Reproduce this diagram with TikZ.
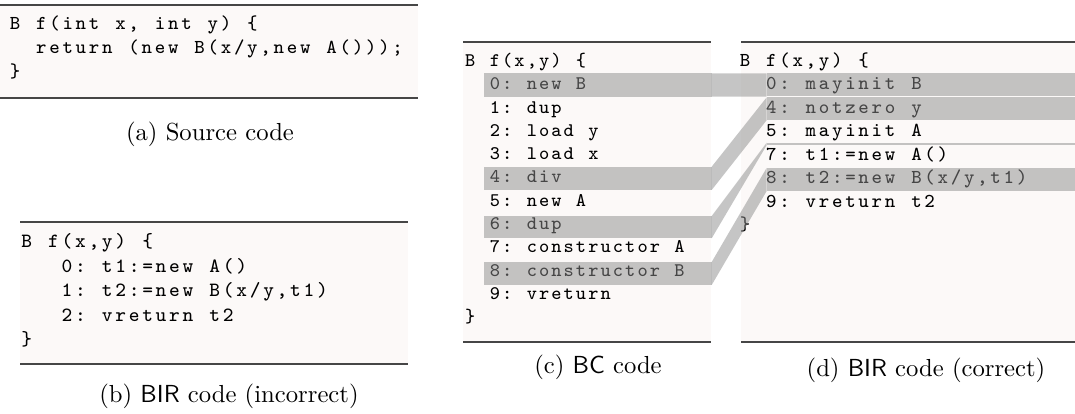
\documentclass[tikz,border=0pt]{standalone}
\usepackage{fontspec}
\newfontfamily\codefont{lmmono8-regular}[Extension=.otf]
\usetikzlibrary{fit}
\ExplSyntaxOn
\dim_new:N \l_cp_pitch_dim
\NewDocumentCommand \codeln { m m }
 {
   \dim_set:Nn \l_cp_pitch_dim {#1}
   \str_map_inline:nn {#2}
     {
       \str_if_eq:eeF {##1} { \c_backslash_str }
         {
           \str_if_eq:eeTF {##1} { \c_tilde_str }
             { \makebox[\l_cp_pitch_dim]{} }
             { \makebox[\l_cp_pitch_dim]{##1} }
         }
     }
 }
\ExplSyntaxOff
\definecolor{codebg}{RGB}{252,249,248}
\definecolor{rulec}{RGB}{70,70,70}
\tikzset{
  codebox/.style={inner sep=0pt, outer sep=0pt, fill=codebg},
  coderule/.style={draw=rulec, line width=0.45pt},
  codetxt/.style={anchor=base west, inner sep=0pt, outer sep=0pt},
  ctA/.style={codetxt, font=\codefont\fontsize{8}{9}\selectfont},
  ctB/.style={codetxt, font=\codefont\fontsize{8.2}{9}\selectfont},
  ctC/.style={codetxt, font=\codefont\fontsize{7.8}{9}\selectfont},
  ctD/.style={codetxt, font=\codefont\fontsize{8}{9}\selectfont},
  hlband/.style={inner sep=0pt, outer sep=0pt, fill=black!45, fill opacity=0.5},
  linkband/.style={fill=black!45, fill opacity=0.5},
  captxt/.style={font=\fontsize{10}{12}\selectfont, inner sep=0pt}
}
\begin{document}
\begin{tikzpicture}[x=0.4055pt,y=-0.4055pt]
\useasboundingbox (0,0) rectangle (1075,414);
% ---------- boxes
\coordinate (a-nw) at (0,5);     \coordinate (a-se) at (418,98);
\coordinate (b-nw) at (20,222);  \coordinate (b-se) at (408,364);
\coordinate (c-nw) at (463,42);  \coordinate (c-se) at (711,342);
\coordinate (d-nw) at (741,42);  \coordinate (d-se) at (1075,342);
\node[codebox, fit=(a-nw)(a-se)] (boxa) {};
\node[codebox, fit=(b-nw)(b-se)] (boxb) {};
\node[codebox, fit=(c-nw)(c-se)] (boxc) {};
\node[codebox, fit=(d-nw)(d-se)] (boxd) {};
\foreach \b in {boxa,boxb,boxc,boxd}{
  \draw[coderule] (\b.north west) -- (\b.north east);
  \draw[coderule] (\b.south west) -- (\b.south east);
}
% ---------- (a) source
\def\pa{5.35pt}
\node[ctA] (a1) at (8.4,30)   {\codeln{\pa}{B f(int x, int y) \{}};
\node[ctA] (a2) at (8.4,54)   {\codeln{\pa}{~~return (new B(x/y,new A()));}};
\node[ctA] (a3) at (8.4,78)   {\codeln{\pa}{\}}};
% ---------- (b) BIR incorrect
\def\pb{5.45pt}
\node[ctB] (b1) at (20,248)   {\codeln{\pb}{B f(x,y) \{}};
\node[ctB] (b2) at (20,272.5) {\codeln{\pb}{~~~0: t1:=new A()}};
\node[ctB] (b3) at (20,297)   {\codeln{\pb}{~~~1: t2:=new B(x/y,t1)}};
\node[ctB] (b4) at (20,321.5) {\codeln{\pb}{~~~2: vreturn t2}};
\node[ctB] (b5) at (20,346)   {\codeln{\pb}{\}}};
% ---------- (c) BC
\def\pc{4.99pt}
\node[ctC] (c0)  at (464.2,66.5)  {\codeln{\pc}{B f(x,y) \{}};
\node[ctC] (c1)  at (464.2,89.8)  {\codeln{\pc}{~~0: new B}};
\node[ctC] (c2)  at (464.2,113.1) {\codeln{\pc}{~~1: dup}};
\node[ctC] (c3)  at (464.2,136.4) {\codeln{\pc}{~~2: load y}};
\node[ctC] (c4)  at (464.2,159.7) {\codeln{\pc}{~~3: load x}};
\node[ctC] (c5)  at (464.2,183.0) {\codeln{\pc}{~~4: div}};
\node[ctC] (c6)  at (464.2,206.3) {\codeln{\pc}{~~5: new A}};
\node[ctC] (c7)  at (464.2,229.6) {\codeln{\pc}{~~6: dup}};
\node[ctC] (c8)  at (464.2,252.9) {\codeln{\pc}{~~7: constructor A}};
\node[ctC] (c9)  at (464.2,276.2) {\codeln{\pc}{~~8: constructor B}};
\node[ctC] (c10) at (464.2,299.5) {\codeln{\pc}{~~9: vreturn}};
\node[ctC] (c11) at (464.2,322.8) {\codeln{\pc}{\}}};
% ---------- (d) BIR correct
\def\pd{5.35pt}
\node[ctD] (d0) at (738.4,66.5)  {\codeln{\pd}{B f(x,y) \{}};
\node[ctD] (d1) at (738.4,90.0)  {\codeln{\pd}{~~0: mayinit B}};
\node[ctD] (d2) at (738.4,113.5) {\codeln{\pd}{~~4: notzero y}};
\node[ctD] (d3) at (738.4,137.0) {\codeln{\pd}{~~5: mayinit A}};
\node[ctD] (d4) at (738.4,160.5) {\codeln{\pd}{~~7: t1:=new A()}};
\node[ctD] (d5) at (738.4,184.0) {\codeln{\pd}{~~8: t2:=new B(x/y,t1)}};
\node[ctD] (d6) at (738.4,207.5) {\codeln{\pd}{~~9: vreturn t2}};
\node[ctD] (d7) at (738.4,231.0) {\codeln{\pd}{\}}};
% ---------- highlight bands
\coordinate (hc0a) at (484,73.3);  \coordinate (hc0b) at (711.7,96.7);
\coordinate (hc4a) at (484,166.7); \coordinate (hc4b) at (711.7,190);
\coordinate (hc6a) at (484,216);   \coordinate (hc6b) at (711.7,238.3);
\coordinate (hc8a) at (484,262);   \coordinate (hc8b) at (711.7,285);
\coordinate (hd0a) at (766.7,73.5); \coordinate (hd0b) at (1075,96.5);
\coordinate (hd4a) at (766.7,97.3); \coordinate (hd4b) at (1075,120.2);
\coordinate (hd7a) at (766.7,143.2); \coordinate (hd7b) at (1075,144.6);
\coordinate (hd8a) at (766.7,167.8); \coordinate (hd8b) at (1075,191);
\node[hlband, fit=(hc0a)(hc0b)] (hc0) {};
\node[hlband, fit=(hc4a)(hc4b)] (hc4) {};
\node[hlband, fit=(hc6a)(hc6b)] (hc6) {};
\node[hlband, fit=(hc8a)(hc8b)] (hc8) {};
\node[hlband, fit=(hd0a)(hd0b)] (hd0) {};
\node[hlband, fit=(hd4a)(hd4b)] (hd4) {};
\node[hlband, fit=(hd7a)(hd7b)] (hd7) {};
\node[hlband, fit=(hd8a)(hd8b)] (hd8) {};
% ---------- links
\fill[linkband] (hc0.north east) -- (hd0.north west) -- (hd0.south west) -- (hc0.south east) -- cycle;
\fill[linkband] (hc4.north east) -- (hd4.north west) -- (hd4.south west) -- (hc4.south east) -- cycle;
\fill[linkband] (hc6.north east) -- (hd7.north west) -- (hd7.south west) -- (hc6.south east) -- cycle;
\fill[linkband] (hc8.north east) -- (hd8.north west) -- (hd8.south west) -- (hc8.south east) -- cycle;
% ---------- captions
\node[captxt] (capa) at (210,134) {(a) Source code};
\node[captxt] (capb) at (229,396) {(b) \textsf{BIR} code (incorrect)};
\node[captxt] (capc) at (598,367) {(c) \textsf{BC} code};
\node[captxt] (capd) at (926,370) {(d) \textsf{BIR} code (correct)};
\end{tikzpicture}
\end{document}
